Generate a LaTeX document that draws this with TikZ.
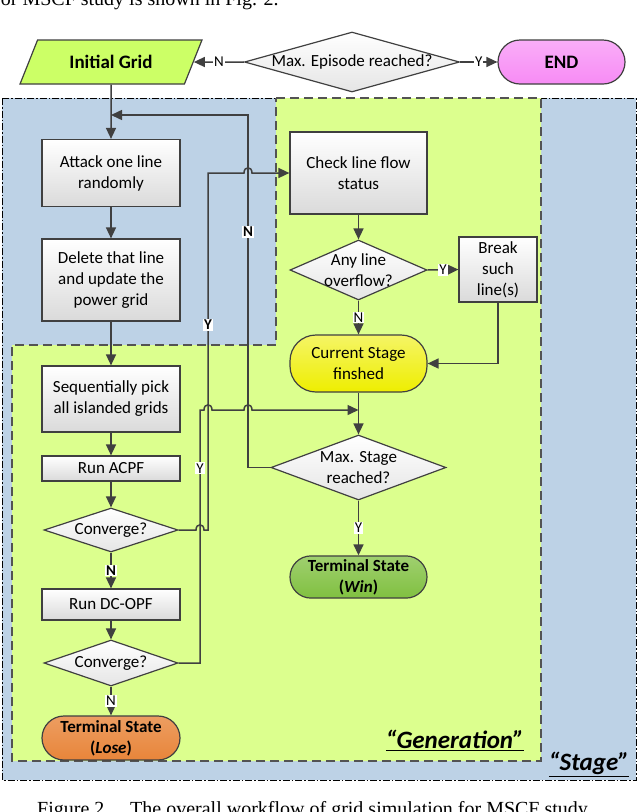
\documentclass[tikz,border=0pt]{standalone}
\usepackage{fontspec}
\setmainfont{Carlito}
\newfontfamily\serifcap{Liberation Serif}
\usetikzlibrary{shapes.geometric,arrows.meta}
\definecolor{stageblue}{HTML}{BDD2E6}
\definecolor{gengreen}{HTML}{DCFF8E}
\definecolor{linegray}{HTML}{404040}
\definecolor{boxbot}{HTML}{DADADA}
\definecolor{igreen}{HTML}{CCFF66}
\definecolor{endpink}{HTML}{F78BF5}
\definecolor{curyel}{HTML}{EEEE00}
\definecolor{wingreen}{HTML}{80C040}
\definecolor{loseor}{HTML}{E8853A}
\begin{document}
\begin{tikzpicture}[x=1pt,y=-1pt,
  font=\fontsize{17}{21}\selectfont,
  box/.style={draw=linegray, line width=1.2pt, top color=white, bottom color=boxbot, minimum width=138pt, align=center, inner sep=1pt},
  dia/.style={diamond, draw=linegray, line width=1.2pt, top color=white, bottom color=boxbot!70, inner sep=0pt},
  diatext/.style={align=center, inner sep=0pt},
  term/.style={draw=linegray, line width=1.2pt, rounded corners=21pt, minimum width=137pt, align=center, font=\fontsize{17}{21}\selectfont\bfseries},
  conn/.style={draw=linegray, line width=1.5pt},
  arr/.style={conn, -{Triangle[length=11pt,width=10pt]}},
  lbl/.style={fill=white, inner sep=1pt, font=\fontsize{15}{15}\selectfont},
  region/.style={font=\fontsize{25}{25}\selectfont\bfseries\itshape},
]
\useasboundingbox (0,0) rectangle (640,812);
\clip (0,0) rectangle (640,812);
\fill[white] (0,0) rectangle (640,812);

% surrounding text (cut at the page edges, as in the reference)
\node[anchor=base west, inner sep=0pt, font=\serifcap\fontsize{20}{20}\selectfont] (toptext) at (-6,5) {for MSCF study is shown in Fig. 2.};
\node[anchor=base west, inner sep=0pt, font=\serifcap\fontsize{20}{20}\selectfont] (capnum) at (37,815) {Figure 2.};
\node[anchor=base west, inner sep=0pt, font=\serifcap\fontsize{20}{20}\selectfont] (captext) at (130,815) {The overall workflow of grid simulation for MSCF study};

% regions
\draw[fill=stageblue, draw=black, line width=1pt, dash pattern=on 7pt off 2pt on 1.5pt off 2pt] (2,98) rectangle (636,780);
\draw[fill=gengreen, draw=linegray!90, line width=2pt, dash pattern=on 9pt off 5pt]
  (276,98) -- (541,98) -- (541,761) -- (12,761) -- (12,345) -- (276,345) -- cycle;
\node[region] (genlbl) at (455,740) {\underline{“Generation”}};
\node[region] (stglbl) at (589,764) {\underline{“Stage”}};

% top row
\node[trapezium, trapezium left angle=62, trapezium right angle=118, trapezium stretches=true,
  draw=linegray, line width=1.2pt, fill=igreen, minimum width=182pt, minimum height=44pt,
  font=\fontsize{19}{21}\selectfont\bfseries] (ig) at (111,62) {Initial Grid};
\node[dia, minimum width=215pt, minimum height=60pt] (ep) at (352,62) {};
\node[diatext] (ept) at (ep) {Max. Episode reached?};
\node[term, rounded corners=22pt, minimum width=127pt, minimum height=44pt, top color=endpink!70!white, bottom color=endpink, font=\fontsize{19}{21}\selectfont\bfseries] (end) at (561.5,62) {END};

% left column
\node[box, minimum height=67pt] (attack) at (111,173) {Attack one line\\randomly};
\node[box, minimum height=82pt] (delete) at (111,280) {Delete that line\\and update the\\power grid};
\node[box, minimum height=66pt] (seq) at (111,399) {Sequentially pick\\all islanded grids};
\node[box, minimum height=25pt] (acpf) at (111,468.5) {Run ACPF};
\node[dia, minimum width=134pt, minimum height=44pt] (c1) at (111,530) {};
\node[diatext] (c1t) at (c1) {Converge?};
\node[box, minimum height=31pt] (dcopf) at (111,604.5) {Run DC-OPF};
\node[dia, minimum width=134pt, minimum height=46pt] (c2) at (111,663) {};
\node[diatext] (c2t) at (c2) {Converge?};
\node[term, minimum width=138pt, minimum height=44pt, rounded corners=22pt, top color=loseor!80!white, bottom color=loseor] (lose) at (111,738) {Terminal State\\(\textit{Lose})};

% right column
\node[box, minimum width=137pt, minimum height=82pt] (check) at (358.5,173) {Check line flow\\status};
\node[dia, minimum width=137pt, minimum height=60pt] (any) at (358.5,270) {};
\node[diatext] (anyt) at (any) {Any line\\overflow?};
\node[box, minimum width=78pt, minimum height=65pt] (brk) at (498,269.5) {Break\\such\\line(s)};
\node[term, minimum height=57pt, rounded corners=26pt, top color=curyel!60!white, bottom color=curyel] (cs) at (358.5,363.5) {\mdseries Current Stage\\\mdseries finshed};
\node[dia, minimum width=175pt, minimum height=65pt] (ms) at (358.5,467.5) {};
\node[diatext] (mst) at (ms) {Max. Stage\\reached?};
\node[term, minimum height=42pt, top color=wingreen!75!white, bottom color=wingreen] (win) at (358.5,577) {Terminal State\\(\textit{Win})};

% connectors: top row
\draw[arr] (ep.west) -- node[lbl] {N} (ig.east);
\draw[arr] (ep.east) -- node[lbl] {Y} (end.west);
\draw[arr] (ig.south) -- (attack.north);

% left column flow
\draw[arr] (attack) -- (delete);
\draw[arr] (delete) -- (seq);
\draw[arr] (seq) -- (acpf);
\draw[arr] (acpf) -- (c1);
\draw[arr] (c1.south) -- node[lbl] {\textbf{N}} (dcopf.north);
\draw[arr] (dcopf) -- (c2);
\draw[arr] (c2.south) -- node[lbl] {N} (lose.north);

% right column flow
\draw[arr] (check) -- (any);
\draw[arr] (any.east) -- node[lbl] {Y} (brk.west);
\draw[arr] (any.south) -- node[lbl] {N} (cs.north);
\draw[arr] (brk.south) |- (cs.east);
\draw[arr] (cs) -- (ms);
\draw[arr] (ms.south) -- node[lbl] {Y} (win.north);

% Max. Stage reached? -- N --> back to attack
\draw[arr] (ms.west) -- (248,467.5) -- node[lbl, pos=0.668] {\textbf{N}} (248,115) -- (attack.north |- 0,115);

% first Converge? -- Y --> check line flow
\draw[arr] (c1.east) -- (196,530) .. controls (196,523) and (204,523) .. (204,530) -- (208,530)
  -- node[lbl, pos=0.574] {\textbf{Y}} (208,173) -- (244,173) .. controls (244,166) and (252,166) .. (252,173)
  -- (check.west |- 0,173);

% second Converge? -- Y --> Max. Stage reached?
\draw[arr] (c2.east) -- (200,663) -- node[lbl, pos=0.77] {Y} (200,410) -- (204,410)
  .. controls (204,403) and (212,403) .. (212,410) -- (244,410)
  .. controls (244,403) and (252,403) .. (252,410) -- (cs.south |- 0,410);
\end{tikzpicture}
\end{document}
